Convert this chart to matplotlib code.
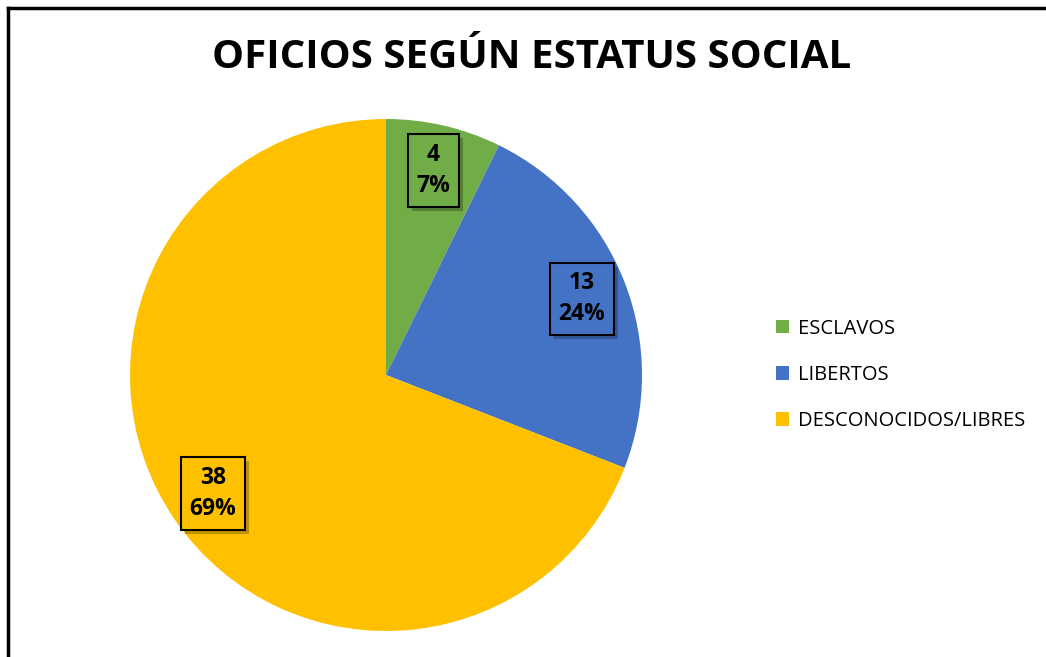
import matplotlib.pyplot as plt
import matplotlib.patheffects as pe
from matplotlib.patches import Patch
from matplotlib.lines import Line2D

# data
categories = ['ESCLAVOS', 'LIBERTOS', 'DESCONOCIDOS/LIBRES']
values = [4, 13, 38]
colors = ['#70AD47', '#4472C4', '#FFC000']

W, H = 1046, 657
fig = plt.figure(figsize=(W / 100, H / 100), dpi=100)
fig.patch.set_facecolor('white')

# frame (only top and left visible in the crop)
fig.add_artist(Line2D([7.5 / W, 7.5 / W], [0, 1 - 8 / H], color='black', lw=2.5))
fig.add_artist(Line2D([7.5 / W, 1], [1 - 8 / H, 1 - 8 / H], color='black', lw=2.5))

# pie axes: center (386, 375), radius 256
ax = fig.add_axes([130 / W, (H - 375 - 256) / H, 512 / W, 512 / H])
ax.axis('off')

total = sum(values)


def fmt(p):
    v = int(round(p * total / 100.0))
    return '{}\n{:.0f}%'.format(v, p)


wedges, texts, autotexts = ax.pie(values, colors=colors, startangle=90, counterclock=False,
                                  radius=1.0, autopct=fmt, pctdistance=0.82,
                                  wedgeprops=dict(linewidth=0))
ax.set_xlim(-1, 1)
ax.set_ylim(-1, 1)
ax.set_aspect('equal')

for t, c in zip(autotexts, colors):
    t.set_fontsize(16.5)
    t.set_fontweight('bold')
    t.set_family('Open Sans')
    t.set_linespacing(1.4)
    t.set_bbox(dict(boxstyle='square,pad=0.38', facecolor=c, edgecolor='black', linewidth=1.5))
    t.get_bbox_patch().set_path_effects([pe.SimplePatchShadow(offset=(3, -3), alpha=0.35),
                                         pe.Normal()])

fig.text(532 / W, 1 - 58 / H, 'OFICIOS SEGÚN ESTATUS SOCIAL', ha='center', va='center',
         fontsize=29, fontweight='bold', family='Open Sans')

handles = [Patch(facecolor=c, edgecolor='none') for c in colors]
fig.legend(handles, categories, loc='center left', bbox_to_anchor=(758 / W, 1 - 375 / H),
           frameon=False, handlelength=0.65, handleheight=0.65,
           handletextpad=0.45, labelspacing=1.3, prop={'family': 'Open Sans', 'size': 14.5})

fig.savefig('out.png', dpi=100)
